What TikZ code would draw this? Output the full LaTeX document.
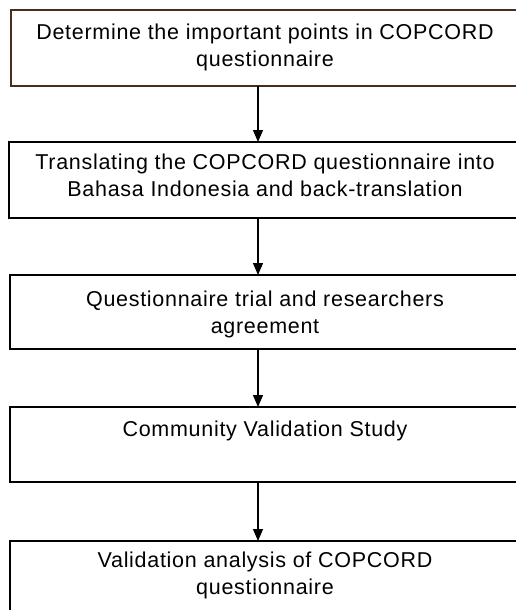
\documentclass[tikz,border=0pt]{standalone}
\usepackage{fontspec}
\setmainfont{Liberation Sans}[LetterSpace=3.3]
\usetikzlibrary{arrows.meta}
\definecolor{boxbrown}{RGB}{70,45,30}
\begin{document}
\begin{tikzpicture}[x=1pt,y=1pt,
  boxshape/.style={draw=black, line width=2pt, rectangle, anchor=north west,
    minimum width=511pt, inner sep=0pt, outer sep=0pt},
  boxtext/.style={anchor=north, align=center, inner sep=0pt,
    font=\fontsize{21.5}{26.5}\selectfont},
  flow/.style={-{Triangle[length=12pt,width=10pt]}, line width=1.1pt}]
\useasboundingbox (0,0) rectangle (516,-610);
\clip (0,0) rectangle (516,-610);
\fill[white] (0,0) rectangle (516,-610);
\coordinate (ax) at (258,0);
\node[boxshape, draw=boxbrown, minimum height=76pt] (b1) at (11,-10) {};
\node[boxshape, minimum height=76pt] (b2) at (9,-142) {};
\node[boxshape, minimum height=74pt] (b3) at (10,-275) {};
\node[boxshape, minimum height=75pt] (b4) at (10,-407) {};
\node[boxshape, minimum height=110pt] (b5) at (10,-541) {};
\node[boxtext] (t1) at (265,-24) {Determine the important points in COPCORD\\questionnaire};
\node[boxtext] (t2) at (265,-154) {Translating the COPCORD questionnaire into\\Bahasa Indonesia and back-translation};
\node[boxtext] (t3) at (265,-291) {Questionnaire trial and researchers\\agreement};
\node[boxtext] (t4) at (265,-421) {Community Validation Study};
\node[boxtext] (t5) at (265,-552) {Validation analysis of COPCORD\\questionnaire};
\draw[flow] (b1.south -| ax) -- (b2.north -| ax);
\draw[flow] (b2.south -| ax) -- (b3.north -| ax);
\draw[flow] (b3.south -| ax) -- (b4.north -| ax);
\draw[flow] (b4.south -| ax) -- (b5.north -| ax);
\end{tikzpicture}
\end{document}
